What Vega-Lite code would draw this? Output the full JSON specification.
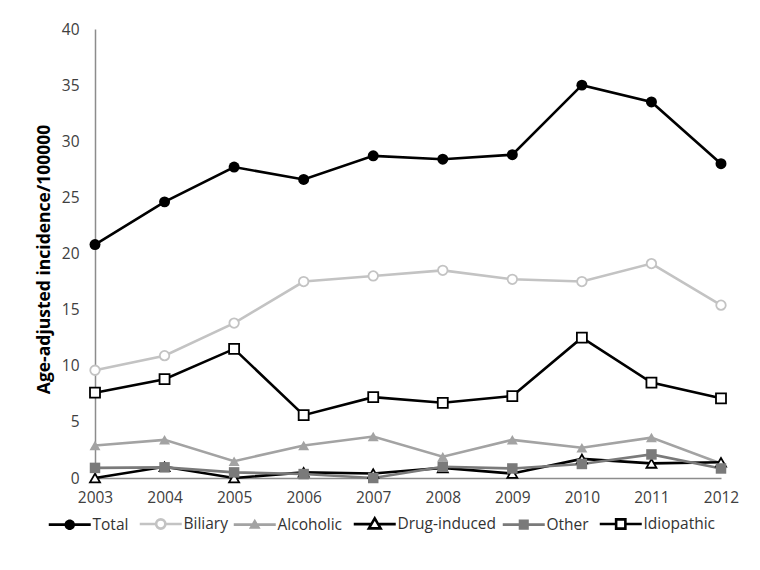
{
  "$schema": "https://vega.github.io/schema/vega-lite/v6.json",
  "autosize": "none",
  "width": 626,
  "height": 449,
  "padding": {"left": 95, "top": 29, "right": 39, "bottom": 92},
  "background": "white",
  "config": {
    "view": {"stroke": null},
    "font": "Open Sans",
    "axis": {"labelFont": "Open Sans", "labelFontSize": 15.5, "labelColor": "#404040", "domainColor": "#8c8c8c", "domainWidth": 1.5, "ticks": false, "grid": false}
  },
  "data": {
    "values": [
      {"year": "2003", "series": "Total", "value": 20.8},
      {"year": "2004", "series": "Total", "value": 24.6},
      {"year": "2005", "series": "Total", "value": 27.7},
      {"year": "2006", "series": "Total", "value": 26.6},
      {"year": "2007", "series": "Total", "value": 28.7},
      {"year": "2008", "series": "Total", "value": 28.4},
      {"year": "2009", "series": "Total", "value": 28.8},
      {"year": "2010", "series": "Total", "value": 35.0},
      {"year": "2011", "series": "Total", "value": 33.5},
      {"year": "2012", "series": "Total", "value": 28.0},
      {"year": "2003", "series": "Biliary", "value": 9.6},
      {"year": "2004", "series": "Biliary", "value": 10.9},
      {"year": "2005", "series": "Biliary", "value": 13.8},
      {"year": "2006", "series": "Biliary", "value": 17.5},
      {"year": "2007", "series": "Biliary", "value": 18.0},
      {"year": "2008", "series": "Biliary", "value": 18.5},
      {"year": "2009", "series": "Biliary", "value": 17.7},
      {"year": "2010", "series": "Biliary", "value": 17.5},
      {"year": "2011", "series": "Biliary", "value": 19.1},
      {"year": "2012", "series": "Biliary", "value": 15.4},
      {"year": "2003", "series": "Alcoholic", "value": 2.9},
      {"year": "2004", "series": "Alcoholic", "value": 3.4},
      {"year": "2005", "series": "Alcoholic", "value": 1.5},
      {"year": "2006", "series": "Alcoholic", "value": 2.9},
      {"year": "2007", "series": "Alcoholic", "value": 3.7},
      {"year": "2008", "series": "Alcoholic", "value": 1.9},
      {"year": "2009", "series": "Alcoholic", "value": 3.4},
      {"year": "2010", "series": "Alcoholic", "value": 2.7},
      {"year": "2011", "series": "Alcoholic", "value": 3.6},
      {"year": "2012", "series": "Alcoholic", "value": 1.3},
      {"year": "2003", "series": "Drug-induced", "value": 0.0},
      {"year": "2004", "series": "Drug-induced", "value": 1.0},
      {"year": "2005", "series": "Drug-induced", "value": 0.0},
      {"year": "2006", "series": "Drug-induced", "value": 0.5},
      {"year": "2007", "series": "Drug-induced", "value": 0.4},
      {"year": "2008", "series": "Drug-induced", "value": 0.9},
      {"year": "2009", "series": "Drug-induced", "value": 0.4},
      {"year": "2010", "series": "Drug-induced", "value": 1.7},
      {"year": "2011", "series": "Drug-induced", "value": 1.3},
      {"year": "2012", "series": "Drug-induced", "value": 1.4},
      {"year": "2003", "series": "Other", "value": 0.9},
      {"year": "2004", "series": "Other", "value": 0.95},
      {"year": "2005", "series": "Other", "value": 0.5},
      {"year": "2006", "series": "Other", "value": 0.35},
      {"year": "2007", "series": "Other", "value": 0.0},
      {"year": "2008", "series": "Other", "value": 1.0},
      {"year": "2009", "series": "Other", "value": 0.85},
      {"year": "2010", "series": "Other", "value": 1.25},
      {"year": "2011", "series": "Other", "value": 2.1},
      {"year": "2012", "series": "Other", "value": 0.85},
      {"year": "2003", "series": "Idiopathic", "value": 7.6},
      {"year": "2004", "series": "Idiopathic", "value": 8.8},
      {"year": "2005", "series": "Idiopathic", "value": 11.5},
      {"year": "2006", "series": "Idiopathic", "value": 5.6},
      {"year": "2007", "series": "Idiopathic", "value": 7.2},
      {"year": "2008", "series": "Idiopathic", "value": 6.7},
      {"year": "2009", "series": "Idiopathic", "value": 7.3},
      {"year": "2010", "series": "Idiopathic", "value": 12.5},
      {"year": "2011", "series": "Idiopathic", "value": 8.5},
      {"year": "2012", "series": "Idiopathic", "value": 7.1}
    ]
  },
  "encoding": {
    "x": {"field": "year", "type": "ordinal", "scale": {"type": "point", "padding": 0}, "axis": {"title": null, "labelAngle": 0, "labelPadding": 12}},
    "y": {"field": "value", "type": "quantitative", "scale": {"domain": [0, 40], "nice": false, "zero": true}, "axis": {"values": [0, 5, 10, 15, 20, 25, 30, 35, 40], "labelPadding": 16, "title": "Age-adjusted incidence/100000", "titleFont": "Open Sans", "titleFontSize": 17.5, "titleFontWeight": "bold", "titleColor": "black", "titlePadding": 8, "titleY": 230}}
  },
  "layer": [
    {
      "mark": {"type": "line", "strokeWidth": 2.6},
      "encoding": {
        "color": {
          "field": "series", "type": "nominal",
          "scale": {"domain": ["Total", "Biliary", "Alcoholic", "Drug-induced", "Other", "Idiopathic"], "range": ["#000000", "#c3c3c3", "#a3a3a3", "#000000", "#7a7a7a", "#000000"]},
          "legend": {
            "title": null, "orient": "none", "direction": "horizontal", "legendX": -33, "legendY": 487, "padding": 0,
            "symbolSize": 1764, "columnPadding": 5, "labelOffset": 15,
            "labelFont": "Open Sans", "labelFontSize": 15.5, "labelColor": "#333333",
            "encode": {
              "symbols": {
                "update": {
                  "shape": {"signal": "datum.value === 'Total' ? 'M-1,-0.062L1,-0.062L1,0.062L-1,0.062Z M-0.25,0A0.25,0.25 0 1,1 0.25,0A0.25,0.25 0 1,1 -0.25,0Z' : datum.value === 'Biliary' ? 'M-1,0L-0.22,0M0.22,0L1,0M-0.22,0A0.22,0.22 0 1,1 0.22,0A0.22,0.22 0 1,1 -0.22,0Z' : datum.value === 'Alcoholic' ? 'M-1,-0.062L1,-0.062L1,0.062L-1,0.062Z M0,-0.28L0.28,0.2L-0.28,0.2Z' : datum.value === 'Drug-induced' ? 'M-1,0L-0.16,0M0.16,0L1,0M0,-0.28L0.28,0.2L-0.28,0.2Z' : datum.value === 'Other' ? 'M-1,-0.062L1,-0.062L1,0.062L-1,0.062Z M-0.24,-0.24L0.24,-0.24L0.24,0.24L-0.24,0.24Z' : 'M-1,0L-0.22,0M0.22,0L1,0M-0.22,-0.22L0.22,-0.22L0.22,0.22L-0.22,0.22Z'"},
                  "fill": {"signal": "datum.value === 'Total' ? '#000000' : datum.value === 'Alcoholic' ? '#a3a3a3' : datum.value === 'Other' ? '#7a7a7a' : '#ffffff'"},
                  "stroke": {"signal": "datum.value === 'Biliary' ? '#c3c3c3' : '#000000'"},
                  "strokeWidth": {"signal": "datum.value === 'Biliary' || datum.value === 'Drug-induced' || datum.value === 'Idiopathic' ? 2.6 : 0"},
                  "opacity": {"value": 1}
                }
              }
            }
          }
        }
      }
    },
    {
      "transform": [{"filter": {"field": "series", "equal": "Total"}}],
      "mark": {"type": "point", "shape": "circle", "size": 120, "filled": true, "color": "#000000", "opacity": 1}
    },
    {
      "transform": [{"filter": {"field": "series", "equal": "Biliary"}}],
      "mark": {"type": "point", "shape": "circle", "size": 90, "fill": "#ffffff", "stroke": "#c3c3c3", "strokeWidth": 1.8, "opacity": 1}
    },
    {
      "transform": [{"filter": {"field": "series", "equal": "Alcoholic"}}],
      "mark": {"type": "point", "shape": "triangle-up", "size": 120, "filled": true, "color": "#a3a3a3", "opacity": 1}
    },
    {
      "transform": [{"filter": {"field": "series", "equal": "Drug-induced"}}],
      "mark": {"type": "point", "shape": "triangle-up", "size": 100, "fill": "#ffffff", "stroke": "#000000", "strokeWidth": 1.8, "opacity": 1}
    },
    {
      "transform": [{"filter": {"field": "series", "equal": "Other"}}],
      "mark": {"type": "point", "shape": "square", "size": 110, "filled": true, "color": "#7a7a7a", "opacity": 1}
    },
    {
      "transform": [{"filter": {"field": "series", "equal": "Idiopathic"}}],
      "mark": {"type": "point", "shape": "square", "size": 100, "fill": "#ffffff", "stroke": "#000000", "strokeWidth": 1.8, "opacity": 1}
    }
  ]
}
